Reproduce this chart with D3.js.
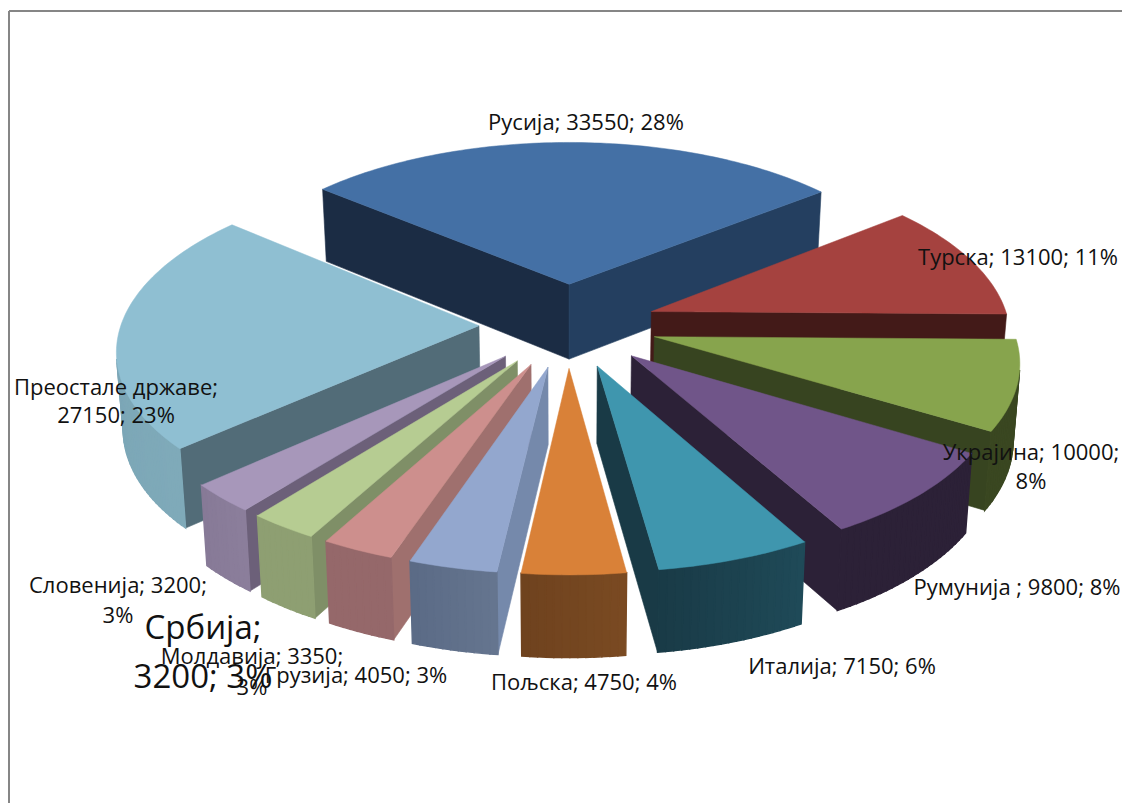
<!DOCTYPE html>
<html>
<head>
<meta charset="utf-8">
<script src="https://cdn.jsdelivr.net/npm/d3@7"></script>
<style>
    html, body { margin: 0; padding: 0; background: #fff; }
    svg { display: block; }
    text { font-family: "Open Sans", sans-serif; fill: #111; text-anchor: middle; }
</style>
</head>
<body>
<svg id="chart"></svg>
<script>
// Data
const categories = ["Русија", "Турска", "Украјина", "Румунија ", "Италија", "Пољска", "Грузија", "Молдавија", "Србија", "Словенија", "Преостале државе"]
const values = [33550, 13100, 10000, 9800, 7150, 4750, 4050, 3350, 3200, 3200, 27150]
const percents = [28, 11, 8, 8, 6, 4, 3, 3, 3, 3, 23]

// Slice colours: top face, the two flat walls, curved wall (both ends)
const topColors = ["#4470a5", "#a5423f", "#87a44d", "#705589", "#3f96ae", "#d98138", "#93a7ce", "#cd8f8d", "#b6cc92", "#a797ba", "#8fbfd2"]
const startWallColors = ["#1b2c44", "#431a18", "#374420", "#2c2137", "#193a46", "#5a3518", "#7589ab", "#9f706e", "#7f8f67", "#6c6079", "#526c78"]
const endWallColors = ["#243f60", "#431a18", "#374420", "#2c2137", "#193a46", "#5a3518", "#7589ab", "#9f706e", "#7f8f67", "#6c6079", "#526c78"]
const arcStartColors = ["#243f60", "#431a18", "#3a4721", "#2c2137", "#1f4a58", "#7a4a22", "#65758f", "#95686a", "#8e9f72", "#8b7e9b", "#7faab9"]
const arcEndColors = ["#243f60", "#431a18", "#3a4721", "#2c2137", "#193a46", "#6e421e", "#5a6a85", "#95686a", "#8e9f72", "#877a97", "#76a0b2"]

// Label lines and where they sit (centre x, baseline y per line)
const labelLines = [
    [`${categories[0]}; ${values[0]}; ${percents[0]}%`],
    [`${categories[1]}; ${values[1]}; ${percents[1]}%`],
    [`${categories[2]}; ${values[2]};`, `${percents[2]}%`],
    [`${categories[3]}; ${values[3]}; ${percents[3]}%`],
    [`${categories[4]}; ${values[4]}; ${percents[4]}%`],
    [`${categories[5]}; ${values[5]}; ${percents[5]}%`],
    [`${categories[6]}; ${values[6]}; ${percents[6]}%`],
    [`${categories[7]}; ${values[7]};`, `${percents[7]}%`],
    [`${categories[8]};`, `${values[8]}; ${percents[8]}%`],
    [`${categories[9]}; ${values[9]};`, `${percents[9]}%`],
    [`${categories[10]};`, `${values[10]}; ${percents[10]}%`]
]
const labelX = [586, 1018, 1031, 1017, 842, 584, 356, 252, 203, 118, 116]
const labelY = [[130], [265], [460, 489], [595], [674], [690], [683], [664, 695], [639, 688], [593, 623], [395, 423]]
const labelSize = [22, 22, 22, 22, 22, 22, 22, 22, 33, 22, 22]

const width = 1122
const height = 803

const svg = d3.select("#chart")
    .attr("width", width)
    .attr("height", height)

// Frame, only the top and left sides are in the picture
svg.append("line").attr("x1", 9).attr("y1", 11).attr("x2", width).attr("y2", 11).attr("stroke", "#868686").attr("stroke-width", 2)
svg.append("line").attr("x1", 9).attr("y1", 11).attr("x2", 9).attr("y2", height).attr("stroke", "#868686").attr("stroke-width", 2)

// Pie layout, keeps the data order, turned so Пољска faces the viewer
const startDeg = -49.9
const pie = d3.pie()
    .sort(null)
    .startAngle(startDeg * Math.PI / 180)
    .endAngle((startDeg + 360) * Math.PI / 180)
const arcs = pie(values)

// Perspective model fitted to the picture
const radius = 358
const explode = 89
const focal = 2870
const tilt = 0.472
const depth = 76

const xScale = d3.scaleLinear().domain([0, 100]).range([568, 668])
const yScale = d3.scaleLinear().domain([0, 100]).range([325, 425])

// x to the right, u toward the viewer, z is 0 on top and 1 on the bottom face
function project(x, u, z) {
    const s = focal / (focal - u)
    const k = z ? 0.985 : 1
    return [xScale(x * s * k), yScale(tilt * u * s) + z * depth * Math.sqrt(s)]
}

function polar(angle, r, mid) {
    return [
        explode * Math.sin(mid) + r * Math.sin(angle),
        -explode * Math.cos(mid) - r * Math.cos(angle)
    ]
}

const line = d3.line()

function quad(a, b) {
    return [project(a[0], a[1], 0), project(b[0], b[1], 0), project(b[0], b[1], 1), project(a[0], a[1], 1)]
}

function drawWall(g, pts, color, strokeWidth) {
    g.append("path")
        .attr("d", line(pts) + "Z")
        .attr("fill", color)
        .attr("stroke", color)
        .attr("stroke-width", strokeWidth)
}

// Draw back to front
const order = d3.range(arcs.length).sort((a, b) => {
    const ma = (arcs[a].startAngle + arcs[a].endAngle) / 2
    const mb = (arcs[b].startAngle + arcs[b].endAngle) / 2
    return -Math.cos(ma) - -Math.cos(mb)
})

order.forEach(i => {
    const d = arcs[i]
    const mid = (d.startAngle + d.endAngle) / 2
    const g = svg.append("g").attr("class", "slice")

    const apex = polar(0, 0, mid)
    const first = polar(d.startAngle, radius, mid)
    const last = polar(d.endAngle, radius, mid)

    // Flat walls, only those turned to the viewer
    const startQuad = quad(apex, first)
    const endQuad = quad(last, apex)
    if (d3.polygonArea(startQuad) > 0) drawWall(g, startQuad, startWallColors[i], 0.6)
    if (d3.polygonArea(endQuad) > 0) drawWall(g, endQuad, endWallColors[i], 0.6)

    // Curved wall in short strips
    const steps = Math.max(4, Math.ceil((d.endAngle - d.startAngle) / 0.02))
    const shade = d3.interpolateRgb(arcStartColors[i], arcEndColors[i])
    const rim = d3.range(steps + 1).map(j => polar(d.startAngle + (d.endAngle - d.startAngle) * j / steps, radius, mid))
    d3.pairs(rim).forEach((pair, j) => {
        const strip = quad(pair[0], pair[1])
        if (d3.polygonArea(strip) > 0) drawWall(g, strip, shade(j / steps), 1.4)
    })

    // Top face
    const top = [apex].concat(rim).map(p => project(p[0], p[1], 0))
    g.append("path")
        .attr("d", line(top) + "Z")
        .attr("fill", topColors[i])
        .attr("stroke", topColors[i])
        .attr("stroke-width", 0.5)
})

// Labels on top of everything
labelLines.forEach((lines, i) => {
    lines.forEach((t, j) => {
        svg.append("text")
            .attr("x", labelX[i])
            .attr("y", labelY[i][j])
            .attr("font-size", labelSize[i])
            .text(t)
    })
})
</script>
</body>
</html>
